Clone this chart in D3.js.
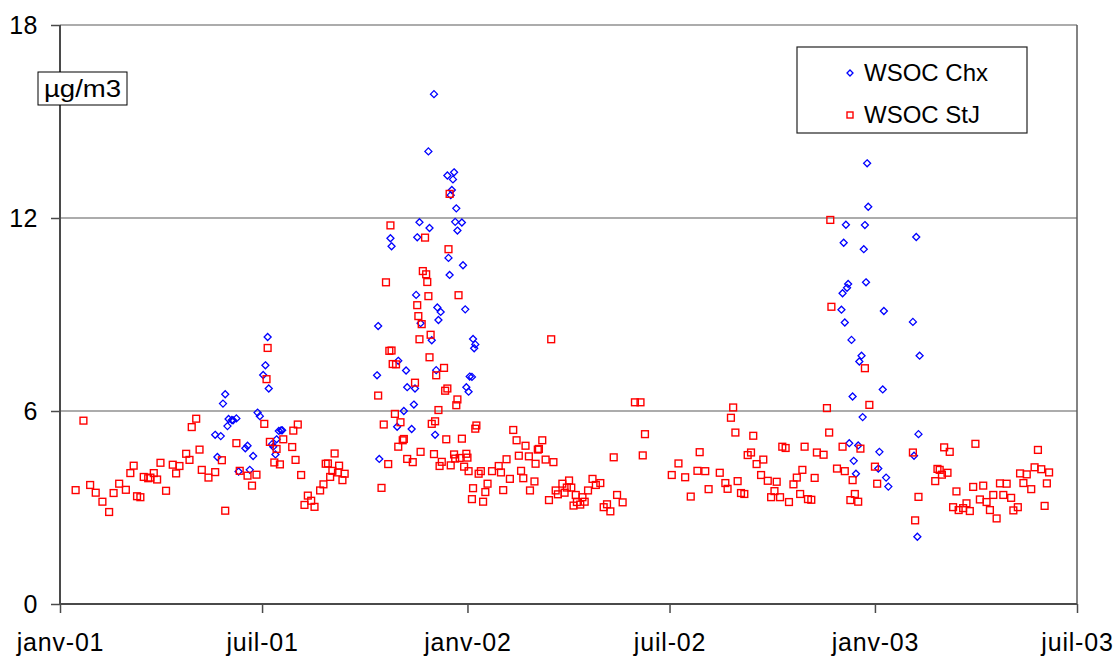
<!DOCTYPE html>
<html><head><meta charset="utf-8">
<script src="https://cdn.jsdelivr.net/npm/d3@7/dist/d3.min.js"></script>
<style>
html,body{margin:0;padding:0;background:#fff;}
svg text{font-family:"Liberation Sans",Arial,sans-serif;fill:#000;}
</style></head>
<body>
<svg id="chart" width="1118" height="660"></svg>
<script>
// ---- DATA ----
const seriesNames = ["WSOC Chx", "WSOC StJ"];
const yUnit = "µg/m3";
const yTicks = [0, 6, 12, 18];
const xTickDates = ["2001-01-01","2001-07-01","2002-01-01","2002-07-01","2003-01-01","2003-07-01"];
const xTickLabels = ["janv-01","juil-01","janv-02","juil-02","janv-03","juil-03"];

const chxDates = ["2001-05-20","2001-05-22","2001-05-25","2001-05-27","2001-05-29","2001-05-31","2001-06-01","2001-06-04","2001-06-05","2001-06-08","2001-06-10","2001-06-16","2001-06-18","2001-06-20","2001-06-23","2001-06-27","2001-06-29","2001-07-02","2001-07-04","2001-07-06","2001-07-07","2001-07-10","2001-07-11","2001-07-13","2001-07-14","2001-07-16","2001-07-18","2001-07-19",
"2001-10-12","2001-10-13","2001-10-14","2001-10-24","2001-10-25","2001-10-30","2001-10-31","2001-11-05","2001-11-07","2001-11-08","2001-11-12","2001-11-14","2001-11-15","2001-11-16","2001-11-17","2001-11-19","2001-11-20","2001-11-27","2001-11-28","2001-11-30","2001-12-02","2001-12-03","2001-12-04","2001-12-05","2001-12-06","2001-12-08","2001-12-14","2001-12-15","2001-12-16","2001-12-17","2001-12-18","2001-12-19","2001-12-20","2001-12-21","2001-12-22","2001-12-23","2001-12-27","2001-12-28","2001-12-30","2001-12-31","2002-01-02","2002-01-03","2002-01-05","2002-01-06","2002-01-07","2002-01-08",
"2002-12-02","2002-12-03","2002-12-04","2002-12-05","2002-12-06","2002-12-07","2002-12-08","2002-12-09","2002-12-11","2002-12-12","2002-12-13","2002-12-15","2002-12-17","2002-12-18","2002-12-20","2002-12-21","2002-12-22","2002-12-23","2002-12-24","2002-12-25","2002-12-26","2003-01-04","2003-01-05","2003-01-08","2003-01-09","2003-01-11","2003-01-13","2003-02-04","2003-02-05","2003-02-07","2003-02-08","2003-02-09","2003-02-10"];
const chxValues = [5.26,4.57,5.22,6.23,6.52,5.53,5.75,5.72,5.71,5.77,4.12,4.84,4.92,4.17,4.60,5.95,5.84,7.12,7.42,8.30,6.70,4.97,4.89,4.65,5.12,5.38,5.40,5.40,
7.11,8.64,4.51,11.37,11.12,5.51,7.56,6.00,7.26,6.74,5.44,6.20,6.70,9.61,11.40,11.87,8.73,14.07,11.69,8.20,15.85,5.26,7.27,9.22,8.83,9.08,13.32,10.76,10.23,12.71,12.87,13.20,13.42,11.88,12.30,11.61,11.86,10.53,9.16,6.74,6.60,7.07,7.06,8.24,7.95,8.07,
9.15,9.66,11.23,8.75,11.79,9.83,9.95,5.00,8.21,6.45,4.45,4.05,4.93,7.54,7.72,5.81,11.03,11.78,10.00,13.70,12.35,4.21,4.73,6.67,9.11,3.93,3.65,8.77,4.61,11.41,2.09,5.28,7.72];

const stjDates = ["2001-01-15","2001-01-22","2001-01-28","2001-02-02","2001-02-08","2001-02-14","2001-02-18","2001-02-23","2001-03-01","2001-03-05","2001-03-08","2001-03-11","2001-03-14","2001-03-17","2001-03-21","2001-03-23","2001-03-26","2001-03-29","2001-04-01","2001-04-06","2001-04-12","2001-04-15","2001-04-18","2001-04-24","2001-04-27","2001-04-29","2001-05-03","2001-05-06","2001-05-08","2001-05-14","2001-05-20","2001-05-26","2001-05-29","2001-06-08","2001-06-11","2001-06-18","2001-06-22","2001-06-26","2001-07-03","2001-07-05","2001-07-06","2001-07-08","2001-07-12","2001-07-14","2001-07-17","2001-07-20","2001-07-28","2001-07-29","2001-07-31","2001-08-02","2001-08-05","2001-08-08","2001-08-11","2001-08-14","2001-08-17","2001-08-22","2001-08-25","2001-08-27","2001-08-29","2001-08-31","2001-09-02","2001-09-04","2001-09-07","2001-09-08","2001-09-11","2001-09-13",
"2001-10-13","2001-10-16","2001-10-18","2001-10-20","2001-10-22","2001-10-23","2001-10-24","2001-10-25","2001-10-26","2001-10-28","2001-10-29","2001-10-31","2001-11-02","2001-11-04","2001-11-05","2001-11-08","2001-11-13","2001-11-15","2001-11-17","2001-11-18","2001-11-19","2001-11-20","2001-11-21","2001-11-22","2001-11-24","2001-11-25","2001-11-26","2001-11-27","2001-11-28","2001-11-29","2001-11-30","2001-12-02","2001-12-03","2001-12-04","2001-12-06","2001-12-07","2001-12-09","2001-12-11","2001-12-12","2001-12-13","2001-12-14","2001-12-15","2001-12-16","2001-12-17","2001-12-20","2001-12-21","2001-12-22","2001-12-23","2001-12-24","2001-12-25","2001-12-27","2001-12-29","2001-12-31",
"2002-01-01","2002-01-02","2002-01-05","2002-01-06","2002-01-08","2002-01-09","2002-01-11","2002-01-13","2002-01-15","2002-01-17","2002-01-19","2002-01-23","2002-01-29","2002-01-31","2002-02-02","2002-02-05","2002-02-08","2002-02-11","2002-02-14","2002-02-16","2002-02-18","2002-02-20","2002-02-22","2002-02-25","2002-02-26","2002-03-02","2002-03-03","2002-03-05","2002-03-06","2002-03-09","2002-03-12","2002-03-15","2002-03-17","2002-03-19","2002-03-21","2002-03-23","2002-03-27","2002-03-29","2002-03-31","2002-04-02","2002-04-04","2002-04-06","2002-04-08","2002-04-09","2002-04-12","2002-04-14","2002-04-16","2002-04-19","2002-04-23","2002-04-26","2002-04-30","2002-05-03","2002-05-06","2002-05-09","2002-05-12","2002-05-15","2002-05-20","2002-05-31","2002-06-05","2002-06-07","2002-06-09",
"2002-07-03","2002-07-09","2002-07-15","2002-07-20","2002-07-26","2002-07-28","2002-08-02","2002-08-05","2002-08-15","2002-08-20","2002-08-22","2002-08-25","2002-08-27","2002-08-29","2002-08-31","2002-09-03","2002-09-06","2002-09-09","2002-09-12","2002-09-14","2002-09-17","2002-09-21","2002-09-23","2002-09-27","2002-09-30","2002-10-03","2002-10-05","2002-10-08","2002-10-10","2002-10-13","2002-10-16","2002-10-20","2002-10-23","2002-10-26","2002-10-28","2002-10-30","2002-11-02","2002-11-05","2002-11-08","2002-11-10","2002-11-16","2002-11-19","2002-11-21","2002-11-22","2002-11-23","2002-11-28","2002-12-03","2002-12-05","2002-12-10","2002-12-12","2002-12-14","2002-12-17","2002-12-19","2002-12-23","2002-12-27",
"2003-01-01","2003-01-03","2003-02-04","2003-02-06","2003-02-09","2003-02-24","2003-02-26","2003-02-28","2003-03-02","2003-03-04","2003-03-07","2003-03-09","2003-03-12","2003-03-15","2003-03-17","2003-03-21","2003-03-24","2003-03-27","2003-03-30","2003-04-01","2003-04-05","2003-04-08","2003-04-11","2003-04-14","2003-04-17","2003-04-20","2003-04-23","2003-04-26","2003-04-29","2003-05-03","2003-05-05","2003-05-09","2003-05-11","2003-05-14","2003-05-17","2003-05-21","2003-05-24","2003-05-27","2003-05-30","2003-06-02","2003-06-04","2003-06-06"];
const stjValues = [3.54,5.70,3.70,3.46,3.18,2.86,3.45,3.74,3.55,4.07,4.30,3.35,3.32,3.95,3.91,3.93,4.07,3.87,4.39,3.52,4.33,4.06,4.29,4.67,4.48,5.50,5.76,4.80,4.17,3.93,4.10,4.47,2.90,5.00,4.14,3.99,3.68,4.02,5.60,6.99,7.96,5.04,4.40,4.82,4.34,5.12,4.88,5.39,4.48,5.58,4.01,3.08,3.37,3.21,3.02,3.53,3.72,4.36,4.37,3.95,4.14,4.68,4.09,4.30,3.85,4.05,
6.48,3.61,5.58,10.00,4.35,7.87,11.77,7.88,7.46,5.91,7.45,4.89,5.65,5.09,5.13,4.51,4.41,6.88,9.29,8.95,8.23,4.73,8.70,10.35,11.39,10.25,10.01,9.57,7.67,8.37,5.60,4.66,5.68,7.11,6.03,4.29,4.42,7.34,6.63,5.12,6.70,11.03,12.75,4.31,4.65,4.52,6.18,6.36,9.60,4.54,5.14,4.27,4.67,
4.55,4.13,3.26,3.60,5.45,5.55,4.05,4.13,3.18,3.48,3.74,4.13,4.29,4.09,3.54,4.50,3.89,5.41,5.09,4.61,4.14,3.91,4.92,4.59,3.53,3.81,4.36,4.80,4.82,5.09,4.49,3.23,8.23,4.41,3.53,3.41,3.74,3.46,3.62,3.84,3.62,3.06,3.39,3.17,3.09,3.32,3.18,3.53,3.89,3.70,3.76,3.01,3.10,2.88,4.56,3.39,3.16,6.27,6.27,4.62,5.28,
4.01,4.37,3.94,3.34,4.14,4.72,4.13,3.57,4.08,3.76,3.58,5.79,6.11,5.33,3.82,3.45,3.42,4.63,4.71,5.23,4.35,4.01,4.49,3.83,3.32,3.51,3.80,3.32,4.89,4.85,3.17,3.72,3.93,3.42,4.17,4.89,3.26,3.24,3.92,4.71,4.64,6.09,5.33,11.94,9.24,4.21,4.89,4.13,3.23,3.85,3.42,3.18,4.83,7.33,6.19,
4.27,3.74,4.71,2.60,3.33,3.82,4.20,4.17,4.02,4.87,4.08,4.73,3.01,3.50,2.92,2.98,3.13,2.89,3.64,4.98,3.25,3.68,3.17,2.92,3.39,2.66,3.75,3.39,3.74,3.30,2.91,3.01,4.06,3.76,4.03,3.57,4.25,4.79,4.19,3.05,3.75,4.09];

// ---- CHART ----
const parse = d3.timeParse("%Y-%m-%d");
const svg = d3.select("#chart");
const L = 60, R = 1077, T = 25, B = 604;
const x = d3.scaleTime().domain([parse(xTickDates[0]), parse(xTickDates[xTickDates.length-1])]).range([L, R]);
const y = d3.scaleLinear().domain([0, 18]).range([B, T]);
const FONT = 24;
const TICKFONT = 25;

// gridlines
svg.append("g").selectAll("line").data(yTicks.filter(d => d > 0)).join("line")
  .attr("x1", L).attr("x2", R).attr("y1", d => y(d)).attr("y2", d => y(d))
  .attr("stroke", "#5a5a5a").attr("stroke-width", 1.2);
// right border
svg.append("line").attr("x1", R).attr("x2", R).attr("y1", T).attr("y2", B)
  .attr("stroke", "#5a5a5a").attr("stroke-width", 1.5);

// y axis
const yAxis = svg.append("g").attr("transform", `translate(${L},0)`)
  .call(d3.axisLeft(y).tickValues(yTicks).tickSize(9).tickPadding(13).tickFormat(d3.format("d")));
yAxis.select(".domain").attr("stroke", "#4a4a4a").attr("stroke-width", 2).attr("d", `M0,${T}V${B}`);
yAxis.selectAll(".tick line").attr("stroke", "#4a4a4a").attr("stroke-width", 1.5);
yAxis.selectAll("text").attr("font-size", TICKFONT).attr("letter-spacing", 0.5)
  .attr("font-family", "Liberation Sans, Arial, sans-serif").attr("fill", "#000");

// x axis
const xAxis = svg.append("g").attr("transform", `translate(0,${B})`)
  .call(d3.axisBottom(x).tickValues(xTickDates.map(parse)).tickSize(9).tickPadding(20)
    .tickFormat((d, i) => xTickLabels[i]));
xAxis.select(".domain").attr("stroke", "#4a4a4a").attr("stroke-width", 2).attr("d", `M${L},0H${R}`);
xAxis.selectAll(".tick line").attr("stroke", "#4a4a4a").attr("stroke-width", 1.5);
xAxis.selectAll("text").attr("font-size", TICKFONT).attr("letter-spacing", 0.8)
  .attr("font-family", "Liberation Sans, Arial, sans-serif").attr("fill", "#000");

// unit label box
const ub = svg.append("g");
ub.append("rect").attr("x", 38).attr("y", 72).attr("width", 89).attr("height", 33)
  .attr("fill", "#fff").attr("stroke", "#000").attr("stroke-width", 1);
ub.append("text").attr("transform", "translate(82.5,97) scale(1.15,1)").attr("text-anchor", "middle")
  .attr("font-size", 24).text(yUnit);

// markers
const chx = chxDates.map((d, i) => ({date: parse(d), v: chxValues[i]}));
const stj = stjDates.map((d, i) => ({date: parse(d), v: stjValues[i]}));
svg.append("g").selectAll("path").data(chx).join("path")
  .attr("transform", d => `translate(${x(d.date)},${y(d.v)})`)
  .attr("d", "M0,-3.5L3.5,0L0,3.5L-3.5,0Z")
  .attr("fill", "none").attr("stroke", "#0000ff").attr("stroke-width", 1.3);
svg.append("g").selectAll("rect").data(stj).join("rect")
  .attr("x", d => x(d.date) - 3.4).attr("y", d => y(d.v) - 3.4)
  .attr("width", 6.8).attr("height", 6.8)
  .attr("fill", "none").attr("stroke", "#ff0000").attr("stroke-width", 1.4);

// legend
const lg = svg.append("g");
lg.append("rect").attr("x", 797).attr("y", 47).attr("width", 230).attr("height", 86)
  .attr("fill", "#fff").attr("stroke", "#222").attr("stroke-width", 1.2);
lg.append("path").attr("d", "M850,70L853,73L850,76L847,73Z")
  .attr("fill", "none").attr("stroke", "#0000ff").attr("stroke-width", 1.3);
lg.append("rect").attr("x", 847).attr("y", 112).attr("width", 6).attr("height", 6)
  .attr("fill", "none").attr("stroke", "#ff0000").attr("stroke-width", 1.4);
lg.append("text").attr("x", 864).attr("y", 81).attr("font-size", FONT).text(seriesNames[0]);
lg.append("text").attr("x", 864).attr("y", 123).attr("font-size", FONT).text(seriesNames[1]);
</script>
</body></html>
